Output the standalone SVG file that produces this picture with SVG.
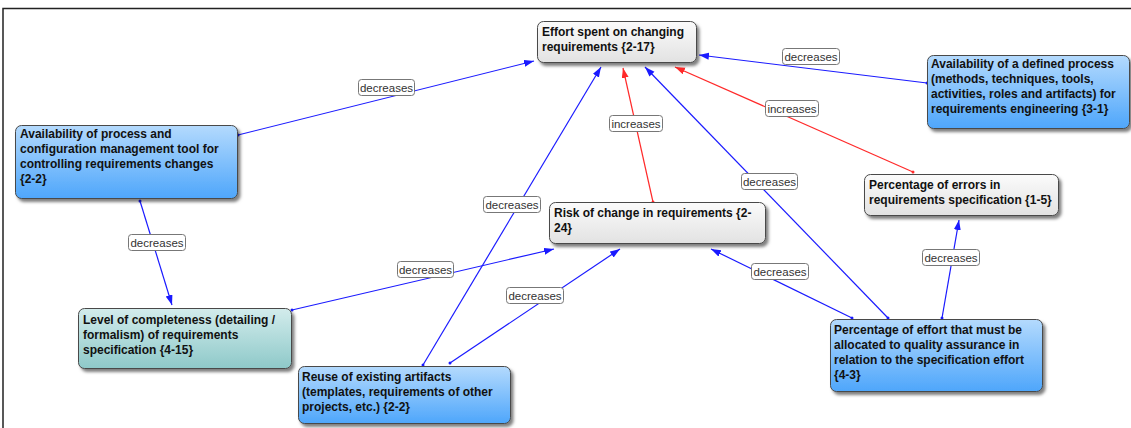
<svg xmlns="http://www.w3.org/2000/svg" width="1131" height="428" viewBox="0 0 1131 428">
  <style>
    .node rect { stroke: #4a4a4a; stroke-width: 1; filter: url(#shadow); }
    .node text { font-family: "Liberation Sans", Arial, sans-serif; font-weight: bold; font-size: 12px; fill: #111; }
    .gray rect { fill: url(#gGray); }
    .blue rect { fill: url(#gBlue); }
    .teal rect { fill: url(#gTeal); }
    .edge { fill: none; stroke-width: 1.2; }
    .b { stroke: #1a1aff; marker-end: url(#arrB); marker-start: url(#dotB); }
    .r { stroke: #ff2a2a; marker-end: url(#arrR); marker-start: url(#dotR); }
    .lbl rect { fill: #fff; stroke: #777; stroke-width: 1; }
    .lbl text { font-family: "Liberation Sans", Arial, sans-serif; font-size: 11.5px; fill: #333; text-anchor: middle; }
  </style>
  <defs>
    <linearGradient id="gGray" x1="0" y1="0" x2="0" y2="1">
      <stop offset="0" stop-color="#fbfbfb"/>
      <stop offset="1" stop-color="#e2e2e2"/>
    </linearGradient>
    <linearGradient id="gBlue" x1="0" y1="0" x2="0" y2="1">
      <stop offset="0" stop-color="#b4dafd"/>
      <stop offset="1" stop-color="#4ea6fb"/>
    </linearGradient>
    <linearGradient id="gTeal" x1="0" y1="0" x2="0" y2="1">
      <stop offset="0" stop-color="#d3ecec"/>
      <stop offset="1" stop-color="#8ec9c9"/>
    </linearGradient>
    <filter id="shadow" x="-10%" y="-10%" width="125%" height="135%">
      <feDropShadow dx="2.5" dy="3" stdDeviation="1.8" flood-color="#000" flood-opacity="0.5"/>
    </filter>
    <marker id="arrB" markerUnits="userSpaceOnUse" markerWidth="11" markerHeight="8" refX="10" refY="3.5" orient="auto">
      <path d="M0,0 L10,3.5 L0,7 z" fill="#1a1aff"/>
    </marker>
    <marker id="arrR" markerUnits="userSpaceOnUse" markerWidth="11" markerHeight="8" refX="10" refY="3.5" orient="auto">
      <path d="M0,0 L10,3.5 L0,7 z" fill="#ff2a2a"/>
    </marker>
    <marker id="dotB" markerUnits="userSpaceOnUse" markerWidth="4" markerHeight="4" refX="2" refY="2">
      <circle cx="2" cy="2" r="1.5" fill="#1a1aff"/>
    </marker>
    <marker id="dotR" markerUnits="userSpaceOnUse" markerWidth="4" markerHeight="4" refX="2" refY="2">
      <circle cx="2" cy="2" r="1.5" fill="#ff2a2a"/>
    </marker>
  </defs>

  <rect width="1131" height="428" fill="#fff"/>
  <!-- canvas frame -->
  <path d="M3,428 V8.5 H1131" fill="none" stroke="#222" stroke-width="1.5"/>

  <!-- connectors -->
  <g id="connectors">
    <line class="edge b" x1="238" y1="135" x2="534" y2="61"/>
    <line class="edge b" x1="927" y1="83" x2="699" y2="55"/>
    <line class="edge b" x1="140" y1="201" x2="172" y2="305"/>
    <line class="edge b" x1="292" y1="310" x2="554" y2="249"/>
    <line class="edge b" x1="423" y1="365" x2="601" y2="67"/>
    <line class="edge b" x1="450" y1="363" x2="620" y2="249"/>
    <line class="edge r" x1="653" y1="202" x2="623" y2="68"/>
    <line class="edge b" x1="888" y1="318" x2="645" y2="67"/>
    <line class="edge r" x1="913" y1="172" x2="675" y2="67"/>
    <line class="edge b" x1="852" y1="318" x2="711" y2="249"/>
    <line class="edge b" x1="942" y1="318" x2="959" y2="220"/>

    <g class="lbl">
      <rect x="358.5" y="79.5" width="56" height="16" rx="3"/><text x="386.5" y="92">decreases</text>
      <rect x="782.5" y="48.5" width="57" height="16" rx="3"/><text x="811" y="61">decreases</text>
      <rect x="128.5" y="234.5" width="57" height="16" rx="3"/><text x="157" y="247">decreases</text>
      <rect x="397.5" y="261.5" width="56" height="16" rx="3"/><text x="425.5" y="274">decreases</text>
      <rect x="483.5" y="196.5" width="57" height="16" rx="3"/><text x="512" y="209">decreases</text>
      <rect x="506.5" y="287.5" width="57" height="16" rx="3"/><text x="535" y="300">decreases</text>
      <rect x="609.5" y="115.5" width="53" height="16" rx="3"/><text x="636" y="128">increases</text>
      <rect x="741.5" y="173.5" width="56" height="16" rx="3"/><text x="769.5" y="186">decreases</text>
      <rect x="765.5" y="100.5" width="53" height="16" rx="3"/><text x="792" y="113">increases</text>
      <rect x="751.5" y="263.5" width="57" height="16" rx="3"/><text x="780" y="276">decreases</text>
      <rect x="922.5" y="249.5" width="57" height="16" rx="3"/><text x="951" y="262">decreases</text>
    </g>
  </g>

  <!-- concept nodes -->
  <g id="effort" class="node gray">
    <rect x="537.5" y="21.5" width="159" height="41" rx="6"/>
    <text x="542" y="36">Effort spent on changing</text>
    <text x="542" y="51">requirements {2-17}</text>
  </g>

  <g id="defined-process" class="node blue">
    <rect x="927.5" y="55.5" width="202" height="73" rx="6"/>
    <text x="931" y="68">Availability of a defined process</text>
    <text x="931" y="83">(methods, techniques, tools,</text>
    <text x="931" y="98">activities, roles and artifacts) for</text>
    <text x="931" y="113">requirements engineering {3-1}</text>
  </g>

  <g id="config-tool" class="node blue">
    <rect x="15.5" y="125.5" width="222" height="73" rx="6"/>
    <text x="20" y="138">Availability of process and</text>
    <text x="20" y="153">configuration management tool for</text>
    <text x="20" y="168">controlling requirements changes</text>
    <text x="20" y="183">{2-2}</text>
  </g>

  <g id="risk" class="node gray">
    <rect x="549.5" y="202.5" width="216" height="41" rx="6"/>
    <text x="554" y="217">Risk of change in requirements {2-</text>
    <text x="554" y="232">24}</text>
  </g>

  <g id="errors" class="node gray">
    <rect x="864.5" y="174.5" width="194" height="41" rx="6"/>
    <text x="869" y="189">Percentage of errors in</text>
    <text x="869" y="204">requirements specification {1-5}</text>
  </g>

  <g id="completeness" class="node teal">
    <rect x="78.5" y="308.5" width="213" height="60" rx="6"/>
    <text x="83" y="324">Level of completeness (detailing /</text>
    <text x="83" y="339">formalism) of requirements</text>
    <text x="83" y="354">specification {4-15}</text>
  </g>

  <g id="reuse" class="node blue">
    <rect x="298.5" y="366.5" width="212" height="57" rx="6"/>
    <text x="302" y="381">Reuse of existing artifacts</text>
    <text x="302" y="396">(templates, requirements of other</text>
    <text x="302" y="411">projects, etc.) {2-2}</text>
  </g>

  <g id="qa-effort" class="node blue">
    <rect x="830.5" y="319.5" width="212" height="72" rx="6"/>
    <text x="834" y="334">Percentage of effort that must be</text>
    <text x="834" y="349">allocated to quality assurance in</text>
    <text x="834" y="364">relation to the specification effort</text>
    <text x="834" y="379">{4-3}</text>
  </g>
</svg>
